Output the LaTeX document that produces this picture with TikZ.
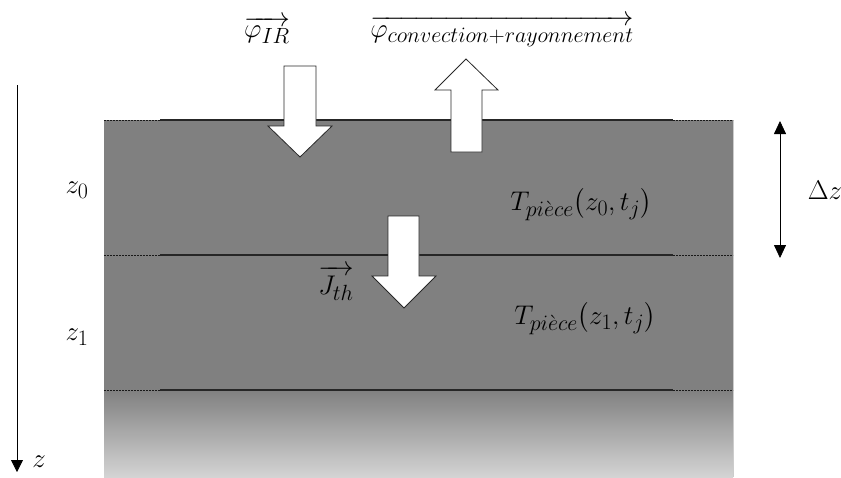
\RequirePackage{fix-cm}
\documentclass[tikz,border=0pt]{standalone}
\usepackage{amsmath}
\usetikzlibrary{arrows.meta}
\DeclareMathSizes{27}{27}{22}{17}
\definecolor{slab}{RGB}{128,128,128}
\definecolor{slablight}{RGB}{212,212,212}
\definecolor{edge}{RGB}{40,40,40}
\tikzset{
  fat/.style={fill=white, draw=edge, line width=0.8pt, line join=miter},
  lbl/.style={inner sep=0pt, font=\fontsize{27}{30}\selectfont},
  solidline/.style={draw=black!85, line width=1.1pt},
  dotline/.style={draw=black!90, line width=1pt, dash pattern=on 2pt off 1pt},
}
\begin{document}
\begin{tikzpicture}[x=1pt,y=-1pt]
\useasboundingbox (0,0) rectangle (841,477);
% slab
\fill[slab] (104,120) rectangle (733,390);
\shade[top color=slab, bottom color=slablight] (104,390) rectangle (733,477);
\draw[white!80!black, line width=0.6pt] (733,120) -- (733,477);
% layer lines
\coordinate (t1) at (104,120); \coordinate (t2) at (160,120); \coordinate (t3) at (673,120); \coordinate (t4) at (733,120);
\coordinate (m1) at (104,255); \coordinate (m2) at (160,255); \coordinate (m3) at (673,255); \coordinate (m4) at (733,255);
\coordinate (b1) at (104,390); \coordinate (b2) at (160,390); \coordinate (b3) at (673,390); \coordinate (b4) at (733,390);
\draw[dotline] (t1) -- (t2); \draw[solidline] (t2) -- (t3); \draw[dotline] (t3) -- (t4);
\draw[dotline] (m1) -- (m2); \draw[solidline] (m2) -- (m3); \draw[dotline] (m3) -- (m4);
\draw[dotline] (b1) -- (b2); \draw[solidline] (b2) -- (b3); \draw[dotline] (b3) -- (b4);
% z axis
\coordinate (za) at (17,85);
\coordinate (zb) at (17,472);
\draw[line width=0.8pt, -{Triangle[length=12pt,width=12pt]}] (za) -- (zb);
\node[lbl] (zl) at (39,462) {$z$};
\node[lbl] (z0) at (77,190) {$z_0$};
\node[lbl] (z1) at (77,337) {$z_1$};
% delta z
\coordinate (dz1) at (780,121);
\coordinate (dz2) at (780,258);
\draw[line width=0.8pt, {Triangle[length=13pt,width=12pt]}-{Triangle[length=13pt,width=12pt]}] (dz1) -- (dz2);
\node[lbl] (dzl) at (825,190) {$\Delta z$};
% fat arrows
\draw[fat] (284,66) -- (316,66) -- (316,126) -- (332,126) -- (300,157) -- (268,126) -- (284,126) -- cycle;
\draw[fat] (451,152) -- (482,152) -- (482,90) -- (498,90) -- (466,59) -- (435,90) -- (451,90) -- cycle;
\draw[fat] (388,216) -- (419,216) -- (419,276) -- (436,276) -- (404,308) -- (372,276) -- (388,276) -- cycle;
% labels
\node[lbl] (phiir) at (267,30) {$\overrightarrow{\varphi_{IR}}$};
\node[lbl] (phicr) at (502,31) {$\overrightarrow{\varphi_{convection+rayonnement}}$};
\node[lbl] (jth) at (336,283) {$\overrightarrow{J_{th}}$};
\node[lbl] (T0) at (581,204) {$T_{pi\grave{e}ce}\bigl(z_0,t_j\bigr)$};
\node[lbl] (T1) at (585,318) {$T_{pi\grave{e}ce}\bigl(z_1,t_j\bigr)$};
\end{tikzpicture}
\end{document}
